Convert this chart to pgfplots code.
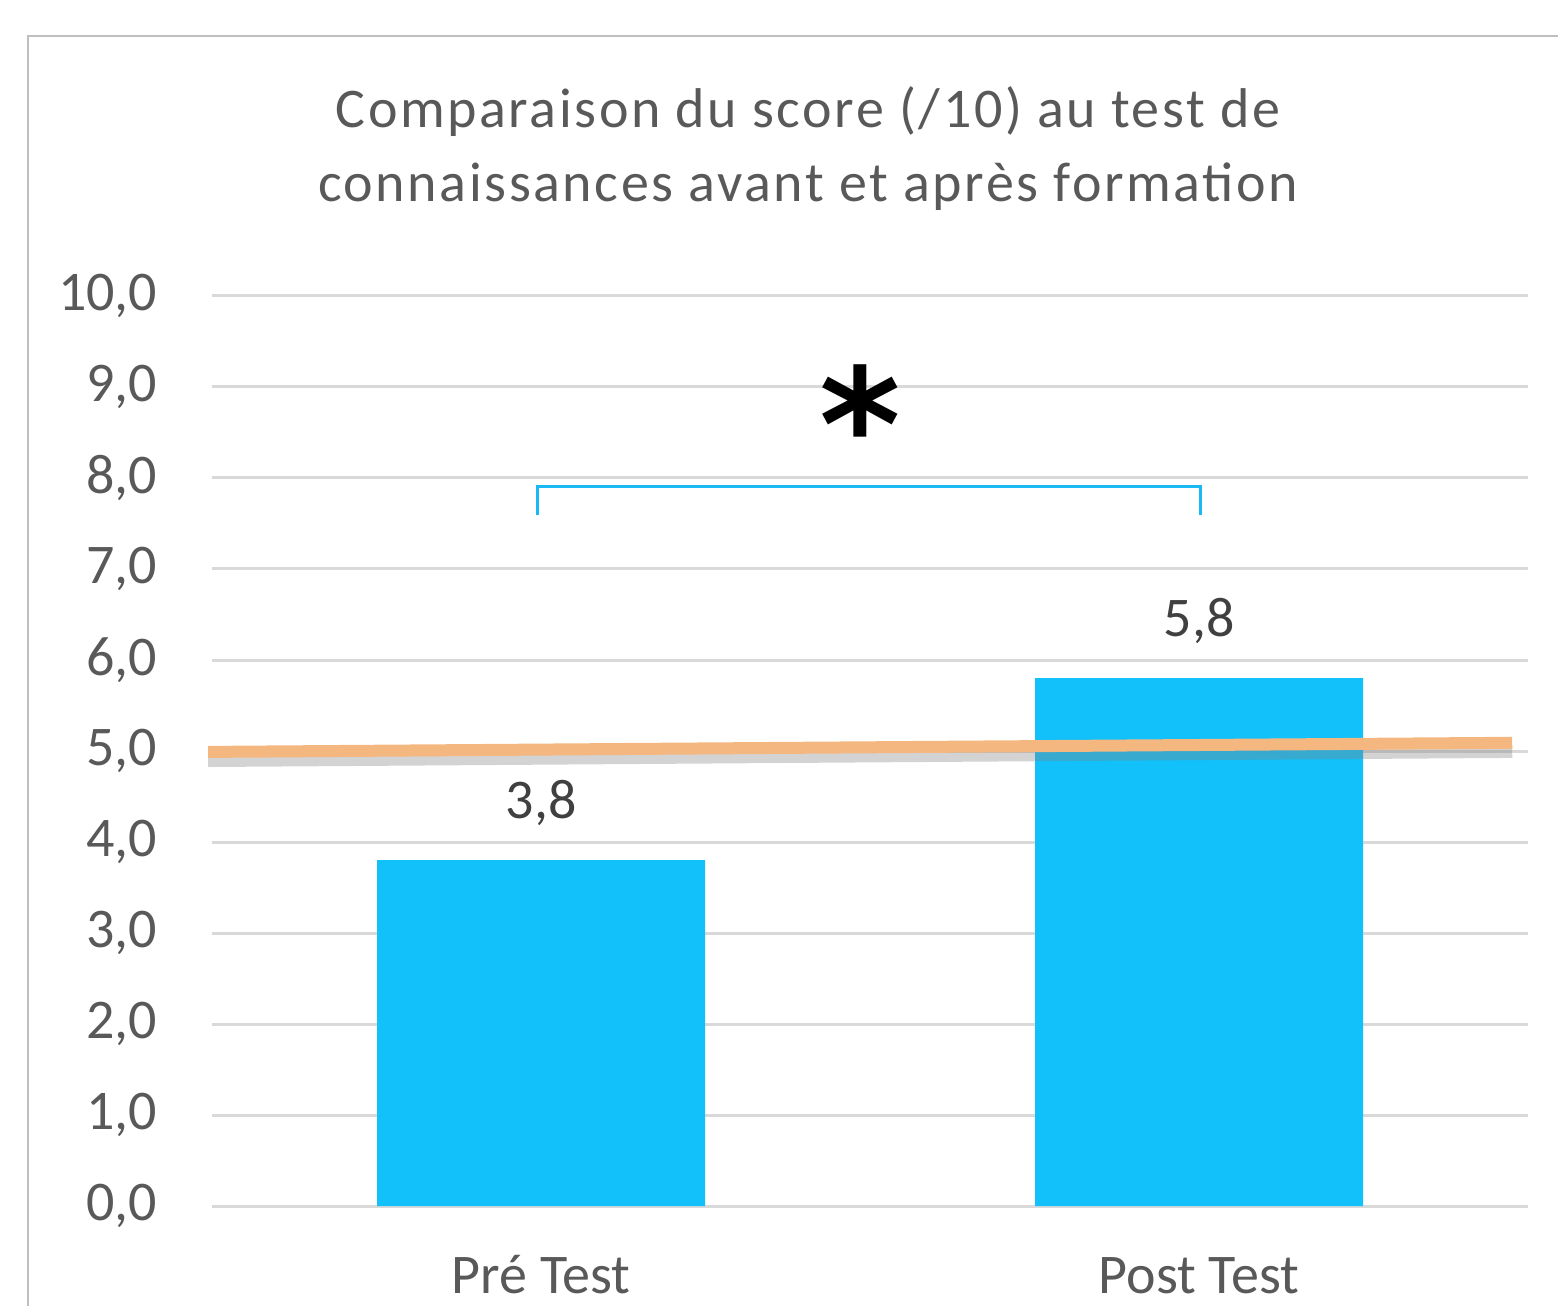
\documentclass[border=0pt]{standalone}
\usepackage{fontspec}
\setmainfont{Carlito}
\newfontfamily\titlefont[LetterSpace=4.6]{Carlito}
\newfontfamily\symfont{DejaVu Sans}
\usepackage{pgfplots}
\pgfplotsset{compat=1.18}
\definecolor{barblue}{HTML}{12C0FA}
\definecolor{orangec}{HTML}{F5B780}
\definecolor{gridc}{HTML}{D9D9D9}
\definecolor{borderc}{HTML}{BFBFBF}
\definecolor{textc}{HTML}{595959}
\definecolor{labelc}{HTML}{404040}
\definecolor{bracketc}{HTML}{1AB8F5}
\begin{document}
\begin{tikzpicture}
\useasboundingbox (-53pt,-24.75pt) rectangle (336.5pt,301.5pt);
\begin{scope}
\clip (-53pt,-24.75pt) rectangle (336.5pt,301.5pt);
\draw[color=borderc, line width=0.6pt] (-46pt,-40pt) -- (-46pt,292.5pt) -- (400pt,292.5pt);
\end{scope}
\node[anchor=base, color=textc, font=\titlefont\fontsize{14}{17}\selectfont, inner sep=0pt] at (149pt,269.5pt) {Comparaison du score (/10) au test de};
\node[anchor=base, color=textc, font=\titlefont\fontsize{14}{17}\selectfont, inner sep=0pt] at (149pt,251pt) {connaissances avant et après formation};
\begin{axis}[
  at={(0pt,0pt)}, anchor=south west,
  scale only axis, width=329pt, height=227.5pt,
  xmin=-0.5, xmax=1.5, ymin=0, ymax=10,
  ytick={0,1,...,10}, xtick={0,1}, xticklabels={Pré Test, Post Test},
  ymajorgrids, grid style={color=gridc, line width=0.75pt},
  axis line style={draw=none}, tick style={draw=none},
  clip=false,
  tick label style={color=textc, font=\fontsize{14}{17}\selectfont},
  yticklabel style={anchor=east, inner sep=0pt, xshift=-13.5pt},
  xticklabel style={anchor=base, inner sep=0pt, yshift=-21.75pt},
  /pgf/number format/.cd, fixed, fixed zerofill, precision=1, use comma, assume math mode=true
]
\addplot[ybar, bar width=82pt, fill=barblue, draw=none,
  nodes near coords,
  nodes near coords style={anchor=base, yshift=10.5pt, color=labelc, font=\fontsize{14}{17}\selectfont, inner sep=0pt}]
  coordinates {(0,3.8) (1,5.8)};
\addplot[color=gray, opacity=0.35, line width=3pt] coordinates {(-0.506,4.89) (1.476,4.99)};
\addplot[color=orangec, line width=3pt] coordinates {(-0.506,4.99) (1.476,5.09)};
\addplot[color=bracketc, line width=0.75pt] coordinates {(-0.005,7.59) (-0.005,7.91) (1.003,7.91) (1.003,7.59)};
\node[inner sep=0pt, anchor=base, font=\symfont\bfseries\fontsize{39}{39}\selectfont] at (axis cs:0.485,7.97) {*};
\end{axis}
\end{tikzpicture}
\end{document}
